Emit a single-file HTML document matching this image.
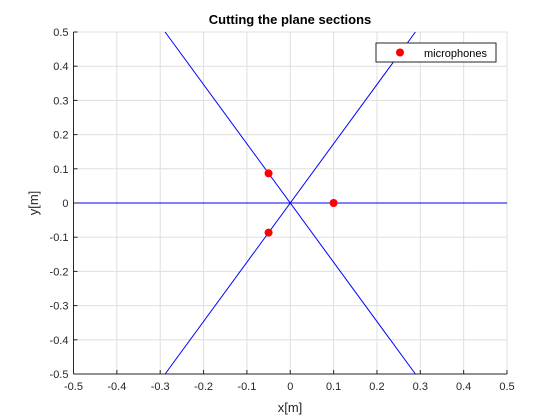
<!DOCTYPE html>
<html><head><meta charset="utf-8"><style>
html,body{margin:0;padding:0;background:#fff;width:560px;height:420px;overflow:hidden}
svg{display:block}
text{font-family:"Liberation Sans",sans-serif}
</style></head><body>
<svg id="chart" width="560" height="420" xmlns="http://www.w3.org/2000/svg">
<rect width="560" height="420" fill="#fff"/>
<g id="grid"></g>
<g id="series"></g>
<g id="axes"></g>
<text x="290" y="24" text-anchor="middle" font-size="13" font-weight="bold" fill="#000">Cutting the plane sections</text>
<text x="290" y="412" text-anchor="middle" font-size="13" fill="#262626">x[m]</text>
<text transform="translate(38,203) rotate(-90)" text-anchor="middle" font-size="13" fill="#262626">y[m]</text>
<g>
<rect x="376" y="43" width="120" height="19" fill="#fff" stroke="#262626" stroke-width="1"/>
<circle cx="400" cy="52.5" r="4" fill="#f00"/>
<text x="424" y="57" font-size="11" fill="#000">microphones</text>
</g>
</svg>
<script>
const xTicks=[-0.5,-0.4,-0.3,-0.2,-0.1,0,0.1,0.2,0.3,0.4,0.5];
const yTicks=[-0.5,-0.4,-0.3,-0.2,-0.1,0,0.1,0.2,0.3,0.4,0.5];
const lineAngles=[0,60,120];
const micX=[0.1,-0.05,-0.05];
const micY=[0,0.0866,-0.0866];
const L=73.5,R=507,T=32,B=374;
const sx=v=>L+(v+0.5)*(R-L);
const sy=v=>B-(v+0.5)*(B-T);
const NS="http://www.w3.org/2000/svg";
function mk(t,a,p){const e=document.createElementNS(NS,t);for(const k in a)e.setAttribute(k,a[k]);p.appendChild(e);return e;}
const grid=document.getElementById('grid'),axes=document.getElementById('axes'),ser=document.getElementById('series');
xTicks.forEach(v=>{
 const g=mk('line',{x1:sx(v),x2:sx(v),y1:T,y2:B,stroke:'#dfdfdf','stroke-width':1},grid);
 
 
 const t=mk('line',{x1:sx(v),x2:sx(v),y1:B,y2:B-4,stroke:'#262626'},axes);
 
 
 const l=mk('text',{x:sx(v),y:B+16,'text-anchor':'middle','font-size':11,fill:'#262626'},axes);
 l.textContent=String(v);
 
 
});
yTicks.forEach(v=>{
 const g=mk('line',{x1:L,x2:R,y1:sy(v),y2:sy(v),stroke:'#dfdfdf','stroke-width':1},grid);
 
 
 const t=mk('line',{x1:L,x2:L+4,y1:sy(v),y2:sy(v),stroke:'#262626'},axes);
 
 
 const l=mk('text',{x:L-5,y:sy(v)+4,'text-anchor':'end','font-size':11,fill:'#262626'},axes);
 l.textContent=String(v);
 
 
});
const ax=mk('line',{x1:L,x2:R,y1:B,y2:B,stroke:'#262626'},axes);


const ay=mk('line',{x1:L,x2:L,y1:T,y2:B,stroke:'#262626'},axes);


lineAngles.forEach(a=>{
 const r=a*Math.PI/180,c=Math.cos(r),s=Math.sin(r);
 const d=Math.min(Math.abs(c)>1e-9?0.5/Math.abs(c):Infinity,Math.abs(s)>1e-9?0.5/Math.abs(s):Infinity);
 const e=mk('line',{x1:sx(-d*c),y1:sy(-d*s),x2:sx(d*c),y2:sy(d*s),stroke:'#0000ff','stroke-width':1},ser);
 
 
});
micX.forEach((x,i)=>{
 const c=mk('circle',{cx:sx(x),cy:sy(micY[i]),r:4,fill:'#f00'},ser);
 
 
});
</script>
</body></html>
